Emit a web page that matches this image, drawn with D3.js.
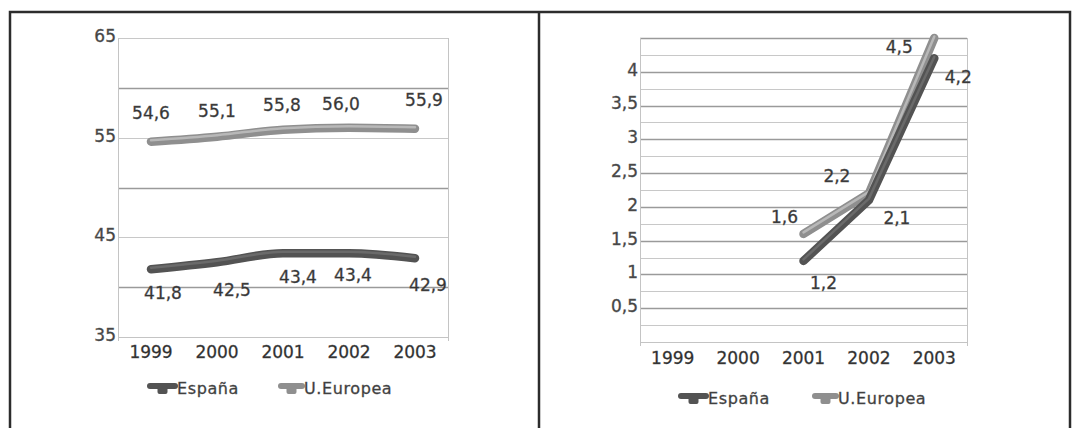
<!DOCTYPE html>
<html>
<head>
<meta charset="utf-8">
<script src="https://cdn.jsdelivr.net/npm/d3@7"></script>
<style>
  body { margin: 0; background: #fff; }
  svg text { font-family: "DejaVu Sans", Verdana, sans-serif; fill: #2e2e2e; stroke: #555; stroke-width: 0.35px; }
</style>
</head>
<body>
<div id="chart"></div>
<script>
// data
var years = ["1999", "2000", "2001", "2002", "2003"];
var espanaA = [41.8, 42.5, 43.4, 43.4, 42.9];
var europaA = [54.6, 55.1, 55.8, 56.0, 55.9];
var espanaB = [null, null, 1.2, 2.1, 4.2];
var europaB = [null, null, 1.6, 2.2, 4.5];
var ticksA = [35, 45, 55, 65];
var ticksB = [0.5, 1, 1.5, 2, 2.5, 3, 3.5, 4];
var seriesNames = ["España", "U.Europea"];

var es = d3.formatLocale({decimal: ",", thousands: ".", grouping: [3], currency: ["", "€"]});
var fmtVal = es.format(".1f");
var fmtTick = es.format(".1~f");

var svg = d3.select("#chart").append("svg")
            .attr("width", 1074)
            .attr("height", 428);

// frame
svg.append("rect").attr("x", 0).attr("y", 0).attr("width", 1074).attr("height", 428).attr("fill", "#fff");
svg.append("path")
   .attr("d", "M10,440 L10,12 L1070,12 L1070,440 M539,12 L539,440")
   .attr("fill", "none")
   .attr("stroke", "#2c2c2c")
   .attr("stroke-width", 2.5);

var colors = {esp: "#535353", espHi: "#6a6a6a", eu: "#8f8f8f", euHi: "#b8b8b8"};

function drawPanel(p){
	var g = svg.append("g");

	var x = d3.scaleBand().domain(years).range([p.left, p.right]);
	var y = d3.scaleLinear().domain(p.domain).range([p.bottom, p.top]);

	// grid
	g.selectAll(".grid")
	 .data(p.grid)
	 .enter()
	 .append("line")
	 .attr("x1", p.left).attr("x2", p.right)
	 .attr("y1", function(d){ return Math.round(y(d)) + 0.5; })
	 .attr("y2", function(d){ return Math.round(y(d)) + 0.5; })
	 .attr("stroke", function(d){ return p.major(d) ? "#9a9a9a" : "#c8c8c8"; })
	 .attr("stroke-width", function(d){ return p.major(d) ? 1.6 : 1; });

	g.append("line")
	 .attr("x1", p.left + 0.5).attr("x2", p.left + 0.5)
	 .attr("y1", p.top).attr("y2", p.bottom + 4)
	 .attr("stroke", "#c4c4c4");
	g.append("line")
	 .attr("x1", p.right + 0.5).attr("x2", p.right + 0.5)
	 .attr("y1", p.top).attr("y2", p.bottom + 4)
	 .attr("stroke", "#c4c4c4");
	g.append("line")
	 .attr("x1", p.left).attr("x2", p.right)
	 .attr("y1", p.bottom + 0.5).attr("y2", p.bottom + 0.5)
	 .attr("stroke", "#c4c4c4");

	// y labels
	var yAxis = d3.axisLeft(y).tickValues(p.ticks).tickFormat(fmtTick).tickSize(0).tickPadding(2);
	var ya = g.append("g").attr("transform", "translate(" + p.left + ",0)").call(yAxis);
	ya.select(".domain").remove();
	ya.selectAll("text")
	  .attr("font-size", 17)
	  .attr("font-family", "DejaVu Sans")
	  .style("fill", "#444")
	  .attr("dy", "0.2em");

	// x labels
	var xAxis = d3.axisBottom(x).tickSize(0).tickPadding(p.xPad);
	var xa = g.append("g").attr("transform", "translate(0," + p.bottom + ")").call(xAxis);
	xa.select(".domain").remove();
	xa.selectAll("text")
	  .attr("font-size", 17)
	  .attr("font-family", "DejaVu Sans")
	  .style("fill", "#2a2a2a");

	var line = d3.line()
				 .defined(function(d){ return d.v !== null; })
				 .x(function(d){ return x(d.k) + x.bandwidth() / 2; })
				 .y(function(d){ return y(d.v); })
				 .curve(p.curve);

	var series = [
		{vals: p.eu, c: colors.eu, hi: colors.euHi, off: p.euOff},
		{vals: p.esp, c: colors.esp, hi: colors.espHi, off: p.espOff}
	];

	series.forEach(function(s){
		var pts = years.map(function(k, i){ return {k: k, v: s.vals[i], i: i}; });
		g.append("path")
		 .datum(pts)
		 .attr("d", line)
		 .attr("fill", "none")
		 .attr("stroke", s.c)
		 .attr("stroke-width", 8.5)
		 .attr("stroke-linecap", "round")
		 .attr("stroke-linejoin", "round");
		g.append("path")
		 .datum(pts)
		 .attr("d", line)
		 .attr("transform", "translate(0,-1.5)")
		 .attr("fill", "none")
		 .attr("stroke", s.hi)
		 .attr("stroke-width", 2.5)
		 .attr("stroke-linecap", "round")
		 .attr("stroke-linejoin", "round");

		g.selectAll(null)
		 .data(pts.filter(function(d){ return d.v !== null; }))
		 .enter()
		 .append("text")
		 .attr("x", function(d){ return x(d.k) + x.bandwidth() / 2 + s.off[d.i][0]; })
		 .attr("y", function(d){ return y(d.v) + s.off[d.i][1]; })
		 .attr("dy", "0.36em")
		 .attr("text-anchor", "middle")
		 .attr("font-size", 17)
		 .style("fill", "#333")
		 .text(function(d){ return fmtVal(d.v); });
	});

	// legend
	var leg = g.append("g");
	p.legend.forEach(function(l, i){
		var c = i === 0 ? colors.esp : colors.eu;
		leg.append("path")
		   .attr("d", "M" + l.x + "," + (p.legY - 2) + " h" + l.w)
		   .attr("stroke", c)
		   .attr("stroke-width", 6)
		   .attr("stroke-linecap", "round");
		leg.append("rect")
		   .attr("x", l.x + l.w / 2 - 5)
		   .attr("y", p.legY - 2)
		   .attr("width", 10)
		   .attr("height", 8)
		   .attr("rx", 2)
		   .attr("fill", c);
		leg.append("text")
		   .attr("x", l.x + l.w + 2)
		   .attr("y", p.legY)
		   .attr("dy", "0.36em")
		   .attr("font-size", 16)
		   .attr("letter-spacing", 0.6)
		   .style("fill", "#3a3a3a")
		   .text(seriesNames[i]);
	});
}

drawPanel({
	left: 118, right: 448, top: 38, bottom: 337,
	domain: [35, 65],
	grid: d3.range(35, 66, 5),
	major: function(d){ return d === 60 || d === 50 || d === 40; },
	ticks: ticksA,
	xPad: 9,
	curve: d3.curveMonotoneX,
	esp: espanaA, eu: europaA,
	euOff: [[0, -29], [0, -26], [-1, -25], [-8, -24], [9, -29]],
	espOff: [[12, 24], [15, 28], [15, 24], [4, 22], [13, 27]],
	legY: 388,
	legend: [{x: 150, w: 25}, {x: 281, w: 21}]
});

drawPanel({
	left: 640, right: 967, top: 38, bottom: 342,
	domain: [0, 4.5],
	grid: d3.range(0.25, 4.6, 0.25),
	major: function(d){ return Math.abs(d * 2 - Math.round(d * 2)) < 0.01; },
	ticks: ticksB,
	xPad: 10,
	curve: d3.curveLinear,
	esp: espanaB, eu: europaB,
	euOff: [[0, 0], [0, 0], [-19, -17], [-32, -17], [-35, 9]],
	espOff: [[0, 0], [0, 0], [20, 22], [28, 18], [24, 19]],
	legY: 398,
	legend: [{x: 681, w: 25}, {x: 815, w: 21}]
});
</script>
</body>
</html>
